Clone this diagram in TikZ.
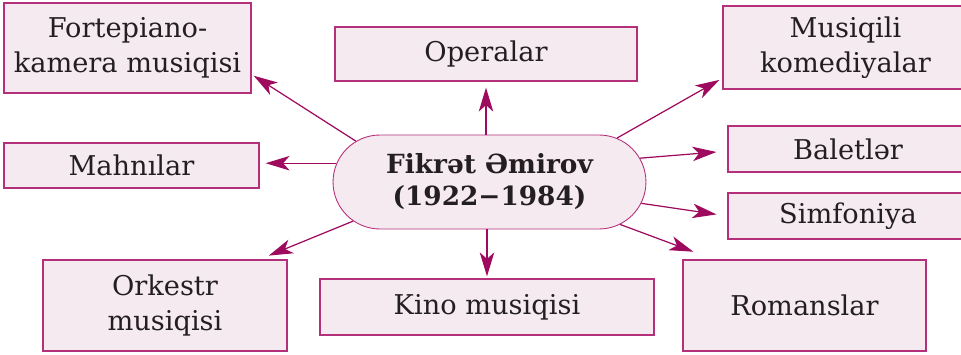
\documentclass[tikz,border=0pt]{standalone}
\usepackage{fontspec}
\setmainfont{DejaVu Serif}
\usetikzlibrary{arrows.meta,shapes.misc}
\definecolor{boxcolor}{RGB}{181,48,122}
\definecolor{arrowcolor}{RGB}{158,10,94}
\definecolor{boxfill}{RGB}{246,234,241}
\definecolor{inkcolor}{RGB}{35,31,32}

\begin{document}
\begin{tikzpicture}[
			x=0.02cm, y=-0.02cm,
			genre/.style={rectangle, draw=boxcolor, fill=boxfill, line width=0.7pt, inner sep=0pt, align=center, text=inkcolor, font=\fontsize{15.5}{20}\selectfont},
			hub/.style={rounded rectangle, draw=boxcolor, fill=boxfill, line width=0.5pt, inner sep=0pt, align=center, text=inkcolor, minimum width=6.26cm, minimum height=1.88cm, font=\fontsize{15}{18.2}\selectfont\bfseries},
			link/.style={->, draw=arrowcolor, line width=0.7pt},
			>={Stealth[length=0.48cm, width=0.29cm, inset=0.13cm]},
		]
		\useasboundingbox (0,0) rectangle (961,355);

		\node[hub] (amirov) at (489.5,182) {Fikrət Əmirov\\(1922−1984)};

		\node[genre, minimum width=4.94cm, minimum height=1.8cm]  (piano)   at (127.5,48)  {Fortepiano-\\kamera musiqisi};
		\node[genre, minimum width=5.1cm,  minimum height=0.9cm]  (song)    at (131.5,165.5) {Mahnılar};
		\node[genre, minimum width=4.88cm, minimum height=1.82cm] (orch)    at (165,305.5) {Orkestr\\musiqisi};
		\node[genre, minimum width=6.04cm, minimum height=1.08cm] (opera)   at (486,54)    {Operalar};
		\node[genre, minimum width=6.68cm, minimum height=1.12cm] (film)    at (487,307)   {Kino musiqisi};
		\node[genre, minimum width=4.9cm,  minimum height=1.66cm] (comedy)  at (845.5,47.5) {Musiqili\\komediyalar};
		\node[genre, minimum width=4.8cm,  minimum height=0.92cm] (ballet)  at (848,149)   {Baletlər};
		\node[genre, minimum width=4.8cm,  minimum height=0.92cm] (symph)   at (848,216)   {Simfoniya};
		\node[genre, minimum width=4.86cm, minimum height=1.82cm] (romance) at (804.5,305.5) {Romanslar};

		\draw[link, shorten >=0.05cm] (amirov.163) -- (piano.-12);
		\draw[link, shorten >=0.12cm] (amirov.173) -- (amirov.173 -| song.east);
		\draw[link, shorten >=0.2cm]  (amirov.196) -- (orch.26);
		\draw[link, shorten >=0.12cm] (opera.south |- amirov.north) -- (opera.south);
		\draw[link, shorten >=0.04cm] (film.north |- amirov.south) -- (film.north);
		\draw[link, shorten >=0.07cm] (amirov.19) -- (comedy.194);
		\draw[link, shorten >=0.22cm] (amirov.9) -- (ballet.181);
		\draw[link, shorten >=0.22cm] (amirov.-8) -- (symph.180);
		\draw[link, shorten >=0.44cm] (amirov.-18) -- (romance.153);

		\end{tikzpicture}
\end{document}
